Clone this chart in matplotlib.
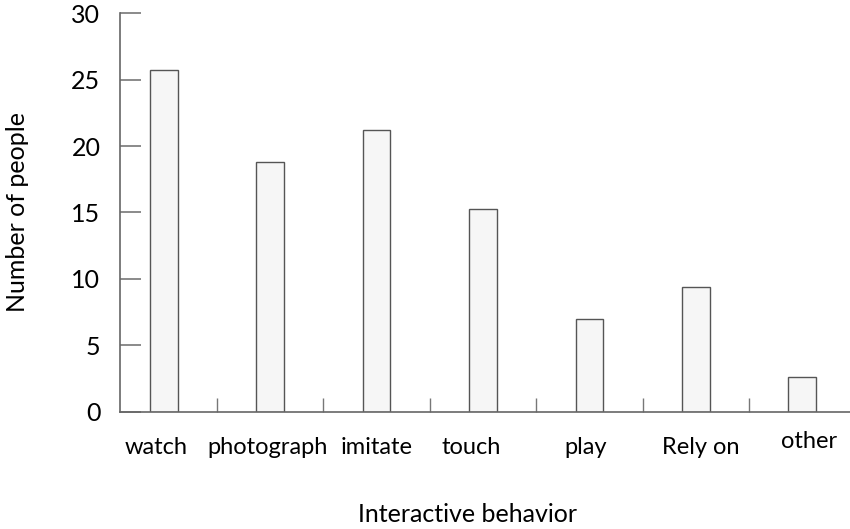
import matplotlib.pyplot as plt
import matplotlib.transforms as mtransforms
import numpy as np

plt.rcParams['font.family'] = ['Lato', 'DejaVu Sans']

categories = ['watch', 'photograph', 'imitate', 'touch', 'play', 'Rely on', 'other']
counts = [25.7, 18.8, 21.2, 15.3, 7.0, 9.4, 2.6]
yticks = [0, 5, 10, 15, 20, 25, 30]


def main():
    fig = plt.figure(figsize=(8.5, 5.29), dpi=100)
    ax = fig.add_axes([0.141, 0.2212, 0.859, 0.7542])

    x = np.arange(len(categories))
    ax.bar(x, counts, width=0.26, color='#f6f6f6', edgecolor='#555555', linewidth=1.0)

    ax.set_xlim(-0.414, 6.45)
    ax.set_ylim(0, 30)

    # spines
    for s in ['top', 'right']:
        ax.spines[s].set_visible(False)
    for s in ['left', 'bottom']:
        ax.spines[s].set_color('#666666')
        ax.spines[s].set_linewidth(1.2)

    ax.set_yticks(yticks)
    ax.set_yticklabels([str(v) for v in yticks], fontsize=18)
    ax.tick_params(axis='y', direction='in', length=15, width=1.2, color='#777777', pad=14)

    # small separator ticks between the bars
    ax.set_xticks(x[:-1] + 0.5, minor=True)
    ax.set_xticks([])
    ax.tick_params(axis='x', which='minor', direction='in', length=10, width=1, color='#777777')

    # category labels (nudged a little like in the original)
    nudge = [-8, -3, 0, -12, -4, 5, 7]
    for i, name in enumerate(categories):
        yoff = -0.09 if name != 'other' else -0.075
        tr = mtransforms.offset_copy(ax.get_xaxis_transform(), fig=fig, x=nudge[i], y=0, units='dots')
        ax.text(i, yoff, name, transform=tr, ha='center', va='center', fontsize=17)

    fig.text(0.55, 0.027, 'Interactive behavior', ha='center', va='center', fontsize=18)
    fig.text(0.021, 0.6, 'Number of people', ha='center', va='center', rotation=90, fontsize=18)

    plt.savefig('out.png', dpi=100)


if __name__ == "__main__":
    main()
